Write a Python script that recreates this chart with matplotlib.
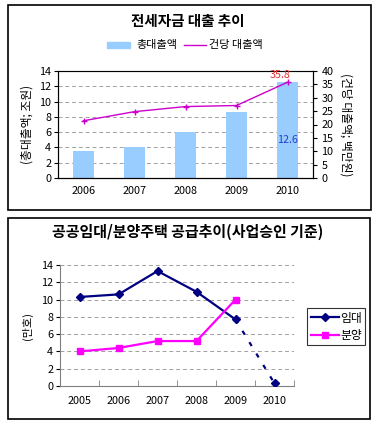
import matplotlib
matplotlib.use("Agg")
import matplotlib.pyplot as plt
from matplotlib.patches import Rectangle
from matplotlib.lines import Line2D
import numpy as np

plt.rcParams['font.family'] = ['Noto Sans CJK KR', 'DejaVu Sans']

# ---- data ----
years_top = ['2006', '2007', '2008', '2009', '2010']
total_loan = [3.5, 4.0, 6.0, 8.7, 12.5]          # 총대출액 (조원)
per_loan = [21.4, 24.8, 26.7, 27.1, 35.8]        # 건당 대출액 (백만원)

years_bot = ['2005', '2006', '2007', '2008', '2009', '2010']
rent = [10.3, 10.6, 13.3, 10.9, 7.7, 0.3]        # 임대 (만호)
sale = [4.0, 4.4, 5.2, 5.2, 10.0]                # 분양 (만호)

W, H = 378, 428
fig = plt.figure(figsize=(W / 100, H / 100), dpi=100)

def fx(x):
    return x / W

def fy(y):
    return 1 - y / H

def axrect(x0, y0, x1, y1):
    return [fx(x0), fy(y1), fx(x1) - fx(x0), fy(y0) - fy(y1)]

# panel borders
fig.patches.append(Rectangle((fx(8), fy(210)), fx(371) - fx(8), fy(5) - fy(210),
                             transform=fig.transFigure, fill=False, edgecolor='black', lw=1.2))
fig.patches.append(Rectangle((fx(8), fy(419)), fx(370) - fx(8), fy(218) - fy(419),
                             transform=fig.transFigure, fill=False, edgecolor='black', lw=1.2))

tick_fs = 7.8
grid_kw = dict(color='#a0a0a0', lw=0.7, ls=(0, (4, 3)))

# ================= TOP CHART =================
fig.text(fx(188), fy(21), '전세자금 대출 추이', ha='center', va='center',
         fontsize=10.5, fontweight='bold')

ax1 = fig.add_axes(axrect(58, 71, 313, 178))
x1 = np.arange(len(years_top))
ax1.bar(x1, total_loan, width=0.41, color='#99CCFF', zorder=2)
ax1.set_xlim(-0.5, len(years_top) - 0.5)
ax1.set_ylim(0, 14)
ax1.set_yticks(np.arange(0, 15, 2))
ax1.set_xticks(x1)
ax1.set_xticklabels(years_top)
ax1.tick_params(axis='x', length=0, labelsize=tick_fs, pad=6)
ax1.tick_params(axis='y', length=3, labelsize=tick_fs, pad=2)
for v in range(2, 14, 2):
    ax1.axhline(v, zorder=1, **grid_kw)
ax1.spines['top'].set_color('#808080')
ax1.spines['left'].set_color('black')
ax1.spines['bottom'].set_color('black')
ax1.set_ylabel('(총대출액; 조원)', fontsize=8.5, labelpad=4)

ax2 = ax1.twinx()
ax2.plot(x1, per_loan, color='#CC00CC', lw=1.0, marker='+', ms=4, mew=1.0, zorder=3)
ax2.set_ylim(0, 40)
ax2.set_yticks(np.arange(0, 41, 5))
ax2.tick_params(axis='y', length=3, labelsize=tick_fs, pad=3)
ax2.spines['right'].set_color('black')
ax2.set_ylabel('(건당 대출액; 백만원)', fontsize=8.5, rotation=270, labelpad=14)
ax2.annotate(f'{per_loan[-1]:.1f}', (x1[-1], per_loan[-1]), xytext=(-5, 3),
             textcoords='offset points', color='#E03030', fontsize=7.8, ha='center')
ax1.text(x1[-1], 5.0, '12.6', color='#2040D0', fontsize=7.8, ha='center', va='center', zorder=4)

# top legend
fig.patches.append(Rectangle((fx(107), fy(48)), fx(130) - fx(107), fy(42) - fy(48),
                             transform=fig.transFigure, color='#99CCFF'))
fig.text(fx(136), fy(45), '총대출액', ha='left', va='center', fontsize=8)
fig.lines.append(Line2D([fx(184), fx(206)], [fy(45), fy(45)], transform=fig.transFigure,
                        color='#CC00CC', lw=1.0))
fig.text(fx(209), fy(45), '건당 대출액', ha='left', va='center', fontsize=8)

# ================= BOTTOM CHART =================
fig.text(fx(188), fy(232), '공공임대/분양주택 공급추이(사업승인 기준)', ha='center', va='center',
         fontsize=10.8, fontweight='bold')

ax3 = fig.add_axes(axrect(60, 265, 294, 386))
x3 = np.arange(len(years_bot))
for v in range(2, 15, 2):
    ax3.axhline(v, zorder=1, **grid_kw)
ax3.plot(x3[:5], rent[:5], color='#000080', lw=1.6, marker='D', ms=4, zorder=3)
ax3.plot(x3[4:], rent[4:], color='#000080', lw=1.6, ls=(0, (2, 4)), marker='D', ms=4,
         markevery=[1], zorder=3)
ax3.plot(x3[:5], sale, color='#FF00FF', lw=1.6, marker='s', ms=5, zorder=3)
ax3.set_xlim(-0.5, len(years_bot) - 0.5)
ax3.set_ylim(0, 14)
ax3.set_yticks(np.arange(0, 15, 2))
ax3.set_xticks(x3)
ax3.set_xticklabels(years_bot)
ax3.set_xticks(np.arange(0.5, len(years_bot) - 0.4, 1), minor=True)
ax3.tick_params(axis='x', which='major', length=0, labelsize=tick_fs, pad=7)
ax3.tick_params(axis='x', which='minor', length=4, direction='in', color='#808080')
ax3.tick_params(axis='y', length=3, labelsize=tick_fs, pad=2)
ax3.spines['top'].set_visible(False)
ax3.spines['right'].set_visible(False)
ax3.spines['left'].set_color('#808080')
ax3.spines['bottom'].set_color('#808080')
ax3.set_ylabel('(만호)', fontsize=8, labelpad=6)
ax3.patch.set_alpha(0)

handles = [Line2D([], [], color='#000080', lw=1.6, marker='D', ms=4),
           Line2D([], [], color='#FF00FF', lw=1.6, marker='s', ms=5)]
leg = fig.legend(handles, ['임대', '분양'], loc='upper left',
                 bbox_to_anchor=(fx(307), fy(308)), fontsize=8.5, frameon=True,
                 fancybox=False, edgecolor='black', handlelength=2.4, handletextpad=0.1,
                 borderpad=0.3, labelspacing=0.35, borderaxespad=0)
leg.get_frame().set_linewidth(0.8)

fig.savefig('out.png', dpi=100)
